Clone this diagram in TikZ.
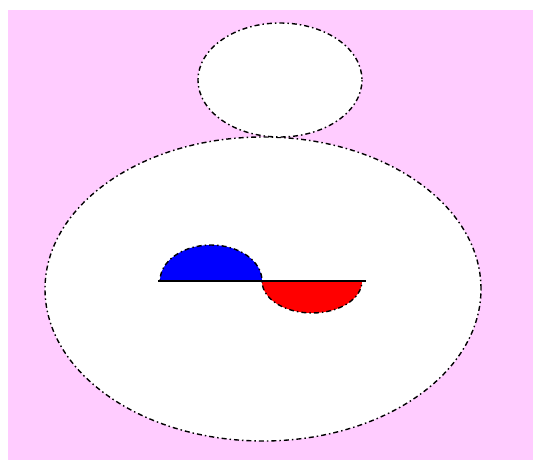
\documentclass[tikz,border=0pt]{standalone}
\usepackage{xcolor}
\definecolor{bgpink}{RGB}{255,204,255}

\begin{document}
\begin{tikzpicture}[x=1pt, y=-1pt, line width=1.4pt,
    outline/.style={draw=black, dash pattern=on 1.5pt off 3pt on 5pt off 3pt}]
  % Frame
  \useasboundingbox (0,0) rectangle (533,460);
  \fill[bgpink] (8,10) rectangle (533,460);
  % Body and head
  \filldraw[outline, fill=white] (263,289) ellipse [x radius=218, y radius=152];
  \filldraw[outline, fill=white] (280,80) ellipse [x radius=82, y radius=57];
  % Half discs (y axis points down, so angles run the other way)
  \filldraw[outline, fill=blue] (160,281) arc[start angle=180, end angle=360, x radius=51, y radius=36] -- cycle;
  \filldraw[outline, fill=red] (262,281) arc[start angle=180, end angle=0, x radius=50, y radius=32] -- cycle;
  % Axis line
  \draw[black] (158,281) -- (366,281);
\end{tikzpicture}
\end{document}
